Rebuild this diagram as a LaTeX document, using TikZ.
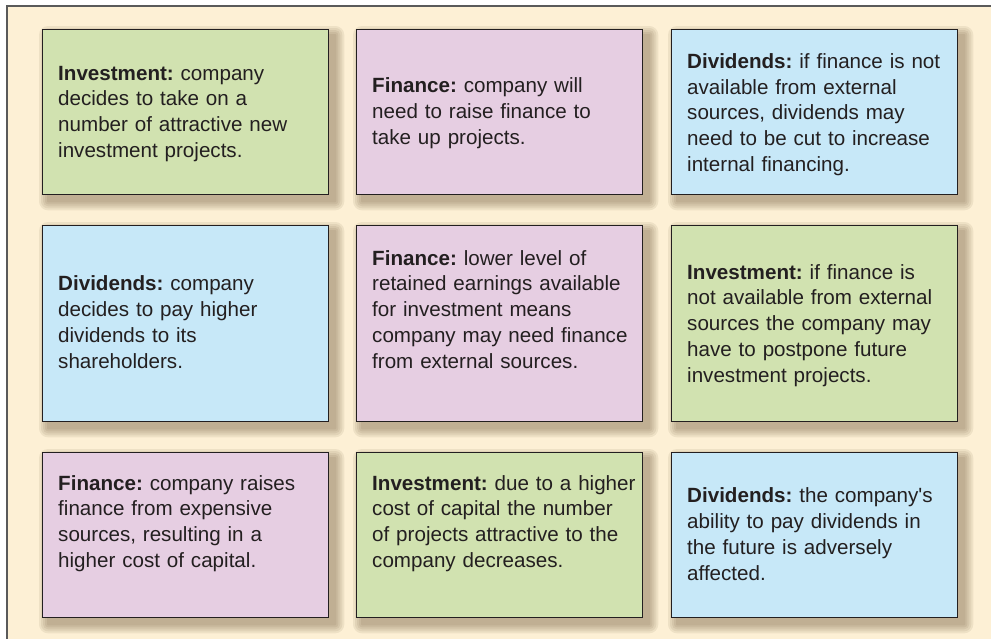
\documentclass[tikz,border=0pt]{standalone}
\usepackage{fontspec}
\setmainfont{Liberation Sans}
\newfontfamily\bodyfont{Liberation Sans}
\definecolor{cream}{RGB}{253,240,213}
\definecolor{gbox}{RGB}{209,226,176}
\definecolor{pbox}{RGB}{230,206,226}
\definecolor{bbox}{RGB}{199,232,248}
\definecolor{txt}{RGB}{35,31,32}
\definecolor{framec}{RGB}{90,90,90}
\definecolor{shad}{RGB}{95,75,45}
\pgfdeclarelayer{back}
\pgfdeclarelayer{bg}
\pgfsetlayers{back,bg,main}
\begin{document}
\begin{tikzpicture}[x=1pt,y=-1pt,
 card/.style={draw=txt, line width=1.3pt, minimum width=286pt, inner sep=0pt, anchor=north west},
 shorter/.style={minimum height=165pt},
 taller/.style={minimum height=196pt},
 body/.style={anchor=base west, align=left, inner sep=0pt, text width=280pt,
   font=\bodyfont\fontsize{20.6}{25.8}\selectfont\frenchspacing, text=txt},
]
\useasboundingbox (0,0) rectangle (991,638);
\clip (0,0) rectangle (991,638);
\begin{pgfonlayer}{back}
\fill[white] (0,0) rectangle (991,638);
\fill[cream] (7,6) rectangle (1000,650);
\draw[framec, line width=1.8pt] (7,650) -- (7,6) -- (1000,6);
\end{pgfonlayer}

% cards
\node[card, shorter, fill=gbox] (b1) at (42,29) {};
\node[card, shorter, fill=pbox] (b2) at (356,29) {};
\node[card, shorter, fill=bbox] (b3) at (671,29) {};
\node[card, taller, fill=bbox] (b4) at (42,225) {};
\node[card, taller, fill=pbox] (b5) at (356,225) {};
\node[card, taller, fill=gbox] (b6) at (671,225) {};
\node[card, shorter, fill=pbox] (b7) at (42,452) {};
\node[card, shorter, fill=gbox] (b8) at (356,452) {};
\node[card, shorter, fill=bbox] (b9) at (671,452) {};

% soft shadows
\begin{pgfonlayer}{bg}
\foreach \b in {b1,b2,b3,b4,b5,b6,b7,b8,b9}{
  \foreach \r in {9,7,5,3,1}{
    \fill[shad, opacity=0.09, rounded corners=\r pt]
      ([xshift=6pt-\r pt, yshift=-6pt+\r pt]\b.north west)
      rectangle ([xshift=6pt+\r pt, yshift=-6pt-\r pt]\b.south east);
  }
}
\end{pgfonlayer}

% texts
\node[body] (t1) at (58,80) {\textbf{Investment:} company\\decides to take on a\\number of attractive new\\investment projects.};
\node[body] (t2) at (372,92.7) {\textbf{Finance:} company will\\need to raise finance to\\take up projects.};
\node[body] (t3) at (687,68.3) {\textbf{Dividends:} if finance is not\\available from external\\sources, dividends may\\need to be cut to increase\\internal financing.};
\node[body] (t4) at (58,290.7) {\textbf{Dividends:} company\\decides to pay higher\\dividends to its\\shareholders.};
\node[body] (t5) at (372,265) {\textbf{Finance:} lower level of\\retained earnings available\\for investment means\\company may need finance\\from external sources.};
\node[body] (t6) at (687,279) {\textbf{Investment:} if finance is\\not available from external\\sources the company may\\have to postpone future\\investment projects.};
\node[body] (t7) at (58,490) {\textbf{Finance:} company raises\\finance from expensive\\sources, resulting in a\\higher cost of capital.};
\node[body] (t8) at (372,490) {\textbf{Investment:} due to a higher\\cost of capital the number\\of projects attractive to the\\company decreases.};
\node[body] (t9) at (687,502.7) {\textbf{Dividends:} the company's\\ability to pay dividends in\\the future is adversely\\affected.};
\end{tikzpicture}
\end{document}
